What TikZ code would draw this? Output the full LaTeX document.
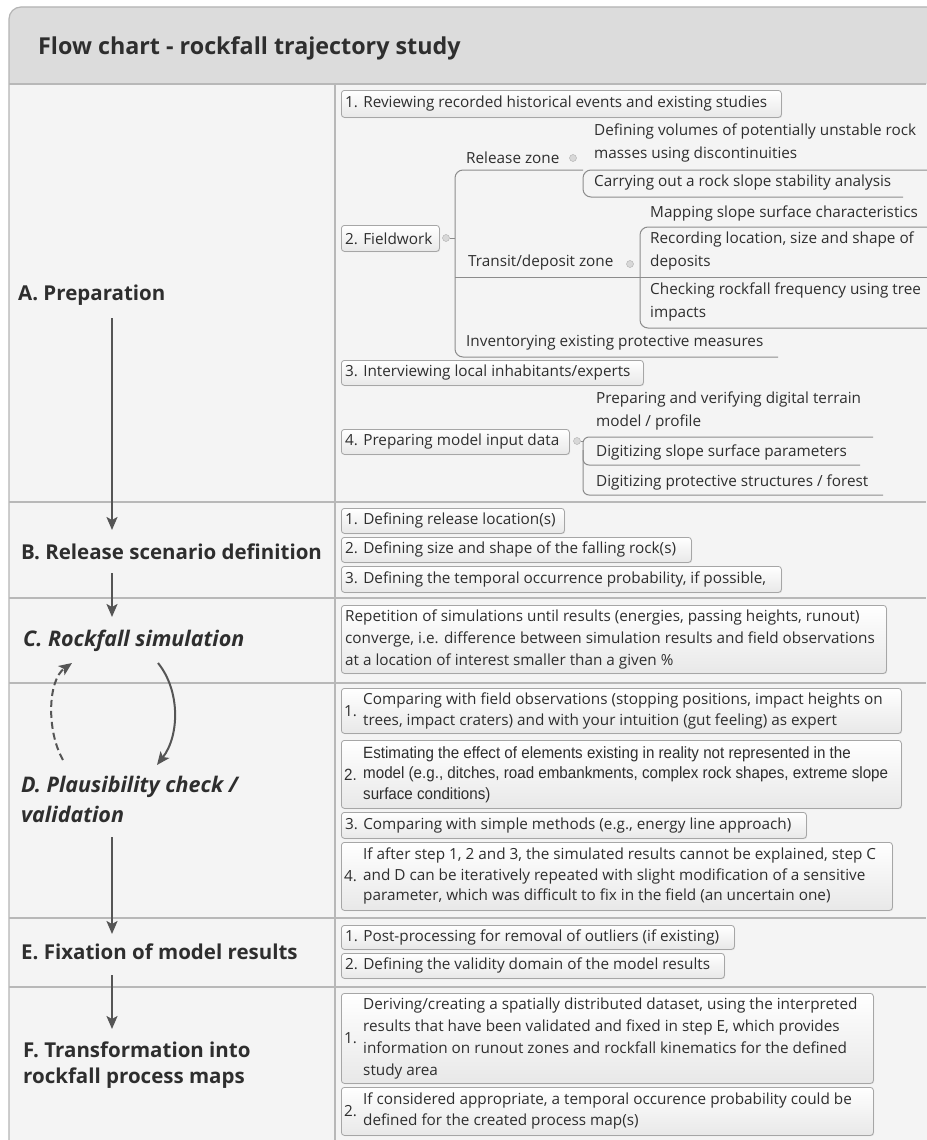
\documentclass[tikz,border=0pt]{standalone}
\usepackage{fontspec}
\setmainfont{Open Sans}
\newfontfamily\narrowfont[FakeStretch=0.93]{Liberation Sans}
\usetikzlibrary{arrows.meta,shadows}
\definecolor{bodybg}{HTML}{F4F4F4}
\definecolor{headbg}{HTML}{DCDCDC}
\definecolor{framec}{HTML}{B4B4B4}
\definecolor{rowline}{HTML}{B8B8B8}
\definecolor{txt}{HTML}{2E2E2E}
\definecolor{boxline}{HTML}{A6A6A6}
\definecolor{boxbot}{HTML}{E8E8E8}
\definecolor{arrowc}{HTML}{555555}
\definecolor{mmline}{HTML}{8C8C8C}
\definecolor{markc}{HTML}{D8D8D8}
\begin{document}
\begin{tikzpicture}[x=1pt,y=-1pt,
  lbl/.style={anchor=base west, inner sep=0pt, text=txt, font=\bfseries\fontsize{20.5}{24}\selectfont},
  lbli/.style={lbl, font=\bfseries\itshape\fontsize{21.5}{24}\selectfont},
  itembox/.style={draw=boxline, line width=0.8pt, rounded corners=3pt, top color=white, bottom color=boxbot,
    anchor=north west, inner sep=0pt, drop shadow={shadow xshift=0.8pt, shadow yshift=-0.8pt, opacity=0.18}},
  itemtxt/.style={anchor=west, inner sep=0pt, text=txt, font=\fontsize{15.3}{#1}\selectfont, align=left},
  itemtxt/.default=22,
  narrowtxt/.style={itemtxt, font=\narrowfont\fontsize{16.3}{20.5}\selectfont},
  mm/.style={draw=mmline, line width=1pt, rounded corners=8pt},
  flow/.style={draw=arrowc, line width=2pt, -{Stealth[length=13pt,width=11pt,inset=3pt]}},
  marker/.style={circle, fill=markc, draw=markc!80!black, line width=0.4pt, minimum size=7pt, inner sep=0pt}
]
\useasboundingbox (0,0) rectangle (926,1140);
\fill[white] (0,0) rectangle (926,1140);
% frame and header
\fill[bodybg, rounded corners=12pt] (9,1160) -- (9,7) -- (960,7) -- (960,1160);
\fill[headbg, rounded corners=12pt] (9,84) -- (9,7) -- (960,7) -- (960,84);
\draw[framec, line width=1.2pt, rounded corners=12pt] (9,1160) -- (9,7) -- (960,7);
\draw[rowline, line width=1.5pt] (9,84) -- (926,84);
\foreach \yy in {502,598,683,918,987} \draw[rowline, line width=1.6pt] (9,\yy) -- (926,\yy);
\draw[rowline, line width=1.2pt] (335,84) -- (335,1140);
\node[anchor=base west, inner sep=0pt, text=txt, font=\bfseries\fontsize{23.3}{26}\selectfont] (title) at (38,55) {Flow chart - rockfall trajectory study};

% left labels
\node[lbl] (lA) at (18,300) {A. Preparation};
\node[lbl] (lB) at (21,559) {B. Release scenario definition};
\node[lbli] (lC) at (23,646) {C. Rockfall simulation};
\node[lbli] (lD) at (21,792) {D. Plausibility check /};
\node[lbli] (lD2) at (21,822) {validation};
\node[lbl] (lE) at (21,959) {E. Fixation of model results};
\node[lbl] (lF) at (23,1057) {F. Transformation into};
\node[lbl] (lF2) at (23,1083) {rockfall process maps};

% flow arrows
\coordinate (aAs) at (112,318); \coordinate (aBe) at (112,530);
\coordinate (aBs) at (112,573); \coordinate (aCe) at (112,617);
\coordinate (aCs) at (158,663); \coordinate (aDe) at (157,765);
\coordinate (aDs) at (63,760);  \coordinate (aCb) at (72,663);
\coordinate (aD2s) at (112,837); \coordinate (aEe) at (112,934);
\coordinate (aEs) at (112,975); \coordinate (aFe) at (112,1029);
\draw[flow] (aAs) -- (aBe);
\draw[flow] (aBs) -- (aCe);
\draw[flow] (aCs) .. controls (180,690) and (180,735) .. (aDe);
\draw[flow, dash pattern=on 7pt off 4pt] (aDs) .. controls (46,730) and (48,680) .. (aCb);
\draw[flow] (aD2s) -- (aEe);
\draw[flow] (aEs) -- (aFe);

% ===== Section A =====
\node[itembox, minimum width=440pt, minimum height=27pt] (a1) at (341,90) {};
\node[itemtxt] (a1t) at ([xshift=4pt]a1.west) {1. Reviewing recorded historical events and existing studies};
\node[itembox, minimum width=98pt, minimum height=26pt] (a2) at (341,225) {};
\node[itemtxt] (a2t) at ([xshift=4pt]a2.west) {2. Fieldwork};
\node[marker] (m2) at (446,238) {};
\node[itemtxt] (rz) at (466,158) {Release zone};
\node[marker] (mrz) at (573,158) {};
\node[itemtxt=22.5] (rz1) at (594,143) {Defining volumes of potentially unstable rock\\masses using discontinuities};
\node[itemtxt] (rz2) at (594,183) {Carrying out a rock slope stability analysis};
\node[itemtxt] (td) at (468,263) {Transit/deposit zone};
\node[marker] (mtd) at (630,264) {};
\node[itemtxt] (td1) at (650,213) {Mapping slope surface characteristics};
\node[itemtxt=23] (td2) at (650,251) {Recording location, size and shape of\\deposits};
\node[itemtxt=23] (td3) at (650,302) {Checking rockfall frequency using tree\\impacts};
\node[itemtxt] (inv) at (466,343) {Inventorying existing protective measures};
\node[itembox, minimum width=302pt, minimum height=25pt] (a3) at (341,360) {};
\node[itemtxt] (a3t) at ([xshift=4pt]a3.west) {3. Interviewing local inhabitants/experts};
\node[itembox, minimum width=228pt, minimum height=25pt] (a4) at (341,429) {};
\node[itemtxt] (a4t) at ([xshift=4pt]a4.west) {4. Preparing model input data};
\node[marker] (m4) at (577,441) {};
\node[itemtxt=23] (p1) at (596,411) {Preparing and verifying digital terrain\\model / profile};
\node[itemtxt] (p2) at (596,452) {Digitizing slope surface parameters};
\node[itemtxt] (p3) at (596,482) {Digitizing protective structures / forest};

% mind-map lines
\draw[mm] (583,170) -- (455,170) -- (455,357) -- (778,357);
\draw[mm] (m2) -- (455,238);
\draw[mm] (940,170) -- (583,170) -- (583,197) -- (903,197);
\draw[mm] (455,277) -- (940,277);
\draw[mm] (940,227) -- (640,227) -- (640,328) -- (940,328);
\draw[mm, rounded corners=6pt] (873,437) -- (583,437) -- (583,495) -- (883,495);
\draw[mm, rounded corners=6pt] (583,450) -- (583,465) -- (860,465);
\draw[mm] (m4) -- (583,441);

% ===== Section B =====
\node[itembox, minimum width=223pt, minimum height=25pt] (b1) at (341,508) {};
\node[itemtxt] (b1t) at ([xshift=4pt]b1.west) {1. Defining release location(s)};
\node[itembox, minimum width=350pt, minimum height=25pt] (b2) at (341,537) {};
\node[itemtxt] (b2t) at ([xshift=4pt]b2.west) {2. Defining size and shape of the falling rock(s)};
\node[itembox, minimum width=440pt, minimum height=26pt] (b3) at (341,566) {};
\node[itemtxt] (b3t) at ([xshift=4pt]b3.west) {3. Defining the temporal occurrence probability, if possible,};

% ===== Section C =====
\node[itembox, minimum width=545pt, minimum height=68pt] (c1) at (341,605) {};
\node[itemtxt] (c1t) at ([xshift=4pt]c1.west) {Repetition of simulations until results (energies, passing heights, runout)\\converge, i.e. difference between simulation results and field observations\\at a location of interest smaller than a given \%};

% ===== Section D =====
\node[itembox, minimum width=560pt, minimum height=45pt] (d1) at (341,688) {};
\node[itemtxt] (d1n) at ([xshift=3pt]d1.west) {1.};
\node[itemtxt=20.5] (d1t) at ([xshift=22pt]d1.west) {Comparing with field observations (stopping positions, impact heights on\\trees, impact craters) and with your intuition (gut feeling) as expert};
\node[itembox, minimum width=560pt, minimum height=68pt] (d2) at (341,740) {};
\node[narrowtxt] (d2n) at ([xshift=3pt]d2.west) {2.};
\node[narrowtxt] (d2t) at ([xshift=22pt]d2.west) {Estimating the effect of elements existing in reality not represented in the\\model (e.g., ditches, road embankments, complex rock shapes, extreme slope\\surface conditions)};
\node[itembox, minimum width=465pt, minimum height=26pt] (d3) at (341,812) {};
\node[itemtxt] (d3t) at ([xshift=4pt]d3.west) {3. Comparing with simple methods (e.g., energy line approach)};
\node[itembox, minimum width=551pt, minimum height=68pt] (d4) at (341,842) {};
\node[itemtxt] (d4n) at ([xshift=3pt]d4.west) {4.};
\node[itemtxt=20.5] (d4t) at ([xshift=22pt]d4.west) {If after step 1, 2 and 3, the simulated results cannot be explained, step C\\and D can be iteratively repeated with slight modification of a sensitive\\parameter, which was difficult to fix in the field (an uncertain one)};

% ===== Section E =====
\node[itembox, minimum width=393pt, minimum height=24pt] (e1) at (341,925) {};
\node[itemtxt] (e1t) at ([xshift=4pt]e1.west) {1. Post-processing for removal of outliers (if existing)};
\node[itembox, minimum width=383pt, minimum height=25pt] (e2) at (341,953) {};
\node[itemtxt] (e2t) at ([xshift=4pt]e2.west) {2. Defining the validity domain of the model results};

% ===== Section F =====
\node[itembox, minimum width=532pt, minimum height=90pt] (f1) at (341,993) {};
\node[itemtxt] (f1n) at ([xshift=3pt]f1.west) {1.};
\node[itemtxt] (f1t) at ([xshift=22pt]f1.west) {Deriving/creating a spatially distributed dataset, using the interpreted\\results that have been validated and fixed in step E, which provides\\information on runout zones and rockfall kinematics for the defined\\study area};
\node[itembox, minimum width=532pt, minimum height=48pt] (f2) at (341,1087) {};
\node[itemtxt] (f2n) at ([xshift=3pt]f2.west) {2.};
\node[itemtxt=21] (f2t) at ([xshift=22pt]f2.west) {If considered appropriate, a temporal occurence probability could be\\defined for the created process map(s)};
\end{tikzpicture}
\end{document}
